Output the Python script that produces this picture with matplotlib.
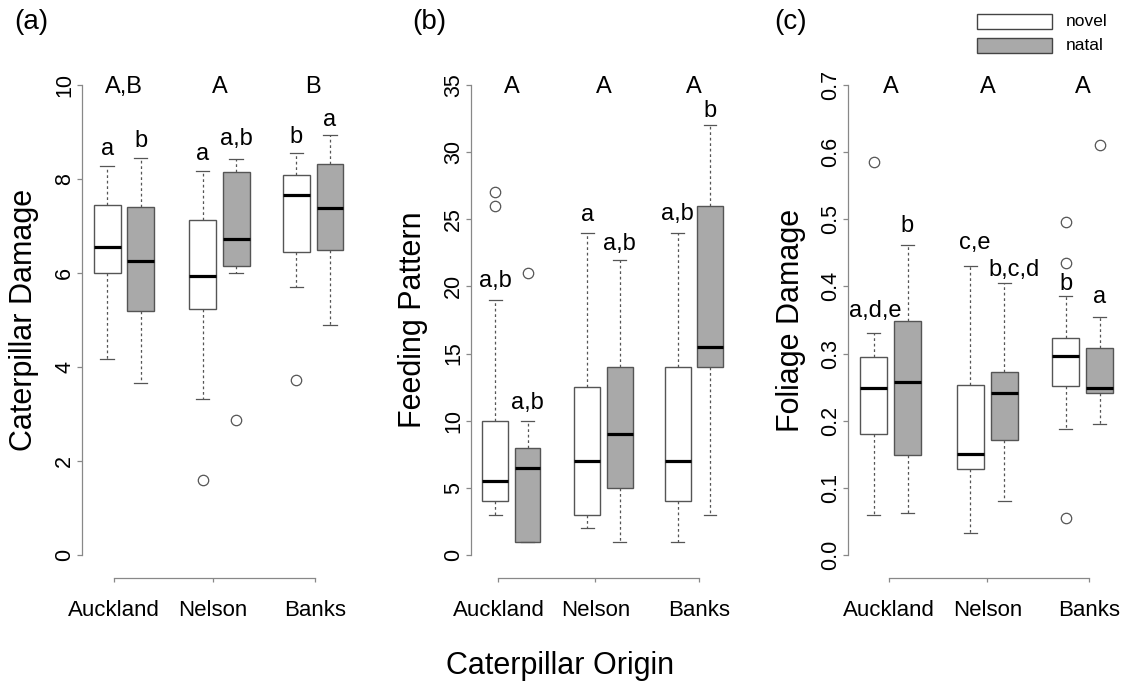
import matplotlib
matplotlib.use("Agg")
import matplotlib.pyplot as plt
from matplotlib.patches import Rectangle

plt.rcParams["font.family"] = ["Liberation Sans", "DejaVu Sans"]

ORIGINS = ["Auckland", "Nelson", "Banks"]
TREATMENTS = ["novel", "natal"]

# box order: Auckland novel, Auckland natal, Nelson novel, Nelson natal, Banks novel, Banks natal
# each row: whisker low, q1, median, q3, whisker high
DAMAGE_STATS = [
    [4.18, 6.00, 6.55, 7.45, 8.28],
    [3.65, 5.20, 6.25, 7.40, 8.44],
    [3.32, 5.23, 5.93, 7.12, 8.17],
    [5.99, 6.15, 6.72, 8.15, 8.43],
    [5.70, 6.45, 7.65, 8.08, 8.56],
    [4.90, 6.49, 7.38, 8.31, 8.94],
]
DAMAGE_FLIERS = [[], [], [1.6], [2.87], [3.72], []]
DAMAGE_LETTERS = ["a", "b", "a", "a,b", "b", "a"]
DAMAGE_GROUPS = ["A,B", "A", "B"]

FEEDING_STATS = [
    [3, 4, 5.5, 10, 19],
    [1, 1, 6.5, 8, 10],
    [2, 3, 7, 12.5, 24],
    [1, 5, 9, 14, 22],
    [1, 4, 7, 14, 24],
    [3, 14, 15.5, 26, 32],
]
FEEDING_FLIERS = [[26, 27], [21], [], [], [], []]
FEEDING_LETTERS = ["a,b", "a,b", "a", "a,b", "a,b", "b"]
FEEDING_GROUPS = ["A", "A", "A"]

FOLIAGE_STATS = [
    [0.060, 0.180, 0.248, 0.295, 0.331],
    [0.062, 0.149, 0.257, 0.348, 0.461],
    [0.033, 0.128, 0.150, 0.253, 0.431],
    [0.081, 0.172, 0.241, 0.272, 0.405],
    [0.188, 0.252, 0.297, 0.323, 0.386],
    [0.195, 0.242, 0.248, 0.309, 0.354],
]
FOLIAGE_FLIERS = [[0.585], [], [], [], [0.055, 0.435, 0.496], [0.611]]
FOLIAGE_LETTERS = ["a,d,e", "b", "c,e", "b,c,d", "b", "a"]
FOLIAGE_GROUPS = ["A", "A", "A"]

DAMAGE_TICKS = [0, 2, 4, 6, 8, 10]
FEEDING_TICKS = [0, 5, 10, 15, 20, 25, 30, 35]
FOLIAGE_TICKS = [0.0, 0.1, 0.2, 0.3, 0.4, 0.5, 0.6, 0.7]

# layout (pixels of the 1121x690 output)
FIG_W, FIG_H = 1121, 690
POSITIONS = [1.0, 2.0, 3.85, 4.85, 6.65, 7.65]
XLIM = (0.25, 8.15)
AXIS_LEFT_PX = [82, 471, 848]
UNIT_PX = [33.5, 32.3, 34.0]
TICK_POS = [[1.2, 4.15, 7.2], [1.1, 4.1, 7.3], [1.45, 4.35, 7.35]]
TAG_X_PX = [31, 429, 791]
# gap between whisker cap and letter baseline, and sideways nudge (pixels)
LETTER_GAP_PX = [
    [11, 11, 11, 14, 10, 9],
    [13, 12, 12, 10, 13, 8],
    [16, 13, 17, 7, 6, 14],
]
LETTER_SHIFT_PX = [
    [0, 0, 0, 0, 0, 0],
    [0, 0, 0, 0, 0, 0],
    [2, 0, 4, 10, 0, 0],
]

FILLS = ["white", "#a9a9a9"]
EDGE = "#555555"
AXIS_COLOR = "#888888"

PANELS = [
    ("(a)", "Caterpillar Damage", DAMAGE_STATS, DAMAGE_FLIERS, DAMAGE_LETTERS,
     DAMAGE_GROUPS, DAMAGE_TICKS, "{:g}"),
    ("(b)", "Feeding Pattern", FEEDING_STATS, FEEDING_FLIERS, FEEDING_LETTERS,
     FEEDING_GROUPS, FEEDING_TICKS, "{:g}"),
    ("(c)", "Foliage Damage", FOLIAGE_STATS, FOLIAGE_FLIERS, FOLIAGE_LETTERS,
     FOLIAGE_GROUPS, FOLIAGE_TICKS, "{:.1f}"),
]


def fy(px):
    return 1 - px / FIG_H


fig = plt.figure(figsize=(FIG_W / 100, FIG_H / 100), dpi=100)

for i, (tag, ylabel, stats, fliers, letters, groups, yticks, fmt) in enumerate(PANELS):
    width = (XLIM[1] - XLIM[0]) * UNIT_PX[i] / FIG_W
    ax = fig.add_axes([AXIS_LEFT_PX[i] / FIG_W, (FIG_H - 555) / FIG_H, width, 470 / FIG_H])
    ymax = yticks[-1]

    bxp_stats = [
        dict(whislo=s[0], q1=s[1], med=s[2], q3=s[3], whishi=s[4], fliers=f)
        for s, f in zip(stats, fliers)
    ]
    bp = ax.bxp(
        bxp_stats,
        positions=POSITIONS,
        widths=0.8,
        capwidths=0.4,
        patch_artist=True,
        manage_ticks=False,
        boxprops=dict(edgecolor=EDGE, linewidth=1.0),
        whiskerprops=dict(color=EDGE, linewidth=0.9, linestyle=(0, (2.2, 2.2))),
        capprops=dict(color=EDGE, linewidth=0.9),
        medianprops=dict(color="black", linewidth=2.3, solid_capstyle="butt"),
        flierprops=dict(marker="o", markerfacecolor="none", markeredgecolor=EDGE,
                        markersize=7.5, markeredgewidth=0.9, linestyle="none"),
    )
    for patch, color in zip(bp["boxes"], FILLS * 3):
        patch.set_facecolor(color)

    ax.set_xlim(*XLIM)
    ax.set_ylim(0, ymax)

    for side in ("top", "right"):
        ax.spines[side].set_visible(False)
    for side in ("left", "bottom"):
        ax.spines[side].set_color(AXIS_COLOR)
        ax.spines[side].set_linewidth(0.9)
    ax.spines["left"].set_bounds(0, ymax)
    ax.spines["bottom"].set_position(("outward", 16.5))
    ax.spines["bottom"].set_bounds(TICK_POS[i][0], TICK_POS[i][-1])

    ax.set_yticks(yticks)
    ax.set_yticklabels([fmt.format(t) for t in yticks], rotation=90, va="center")
    ax.tick_params(axis="y", length=3.5, width=0.9, color=AXIS_COLOR, labelsize=15.5, pad=1.5)
    ax.set_xticks(TICK_POS[i])
    ax.set_xticklabels(ORIGINS)
    ax.tick_params(axis="x", length=3, width=0.9, color=AXIS_COLOR, labelsize=16, pad=13)

    for g, label in enumerate(groups):
        x = (POSITIONS[2 * g] + POSITIONS[2 * g + 1]) / 2
        ax.annotate(label, (x, ymax), xytext=(0, -2), textcoords="offset pixels",
                    ha="center", va="center", fontsize=17, annotation_clip=False)

    for j, (pos, s, label) in enumerate(zip(POSITIONS, stats, letters)):
        ax.annotate(label, (pos, s[4]),
                    xytext=(LETTER_SHIFT_PX[i][j], LETTER_GAP_PX[i][j]),
                    textcoords="offset pixels", ha="center", va="baseline",
                    fontsize=17, annotation_clip=False)

    fig.text((AXIS_LEFT_PX[i] - 57.5) / FIG_W, fy(320), ylabel, rotation=90,
             ha="center", va="center", fontsize=22)
    fig.text(TAG_X_PX[i] / FIG_W, fy(22), tag, ha="center", va="center", fontsize=20)

fig.text(0.5, fy(666), "Caterpillar Origin", ha="center", va="center", fontsize=22)

# legend drawn in the top right corner
for k, (name, color) in enumerate(zip(TREATMENTS, FILLS)):
    top = 14 + 24 * k
    fig.add_artist(Rectangle((977 / FIG_W, fy(top + 15)), 75 / FIG_W, 15 / FIG_H,
                             transform=fig.transFigure, facecolor=color,
                             edgecolor="#444444", linewidth=1.0))
    fig.text(1066 / FIG_W, fy(top + 7.5), name, ha="left", va="center", fontsize=12.5)

fig.savefig("out.png", dpi=100)
plt.close(fig)
